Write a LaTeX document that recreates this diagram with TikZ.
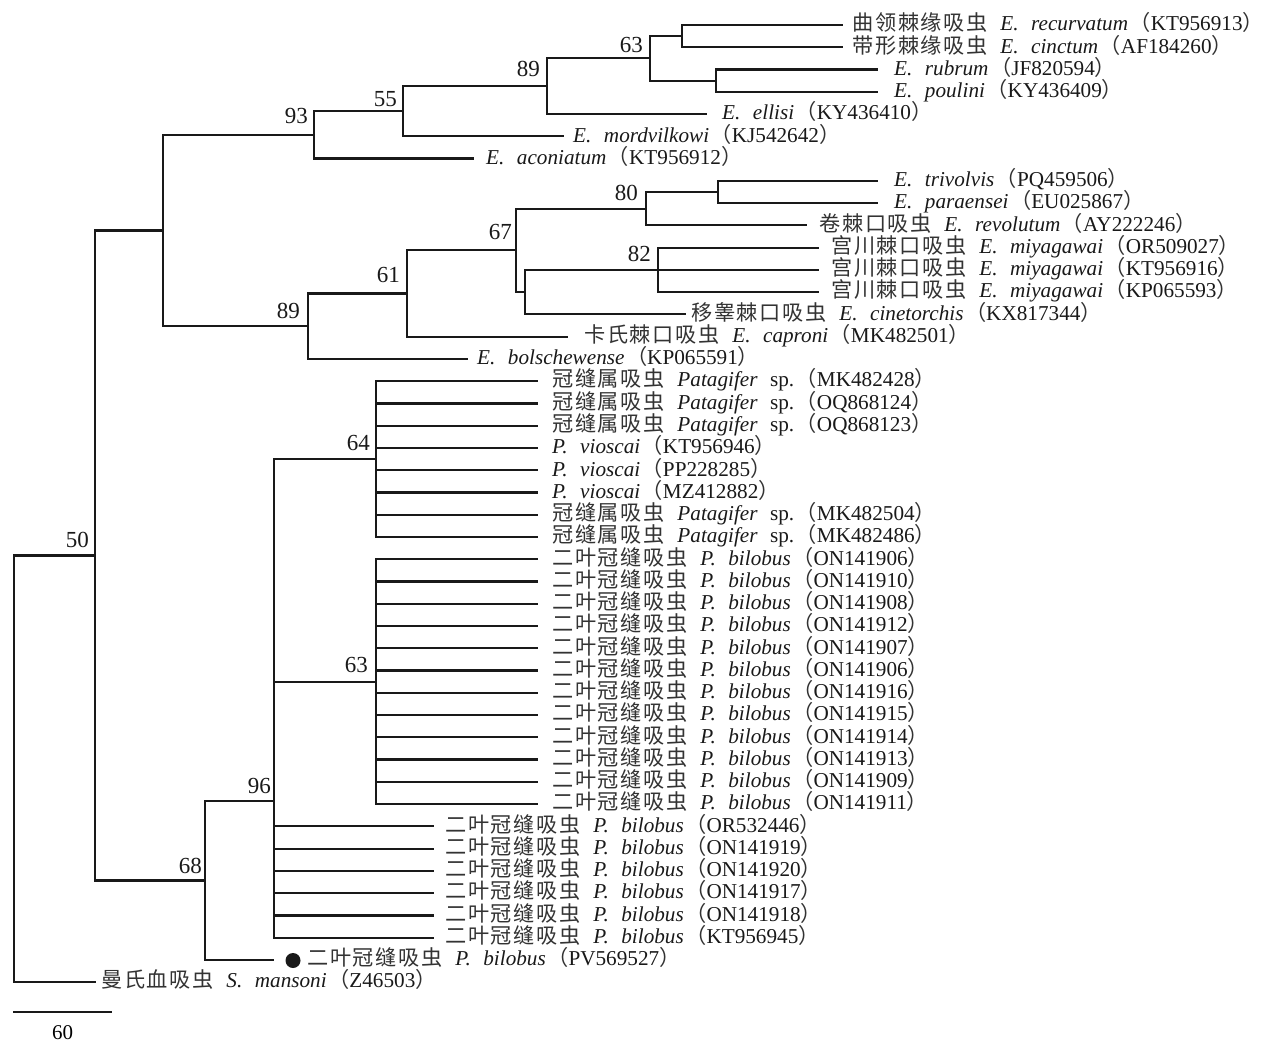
\documentclass[tikz,border=0pt]{standalone}
\usepackage{fontspec}
\setmainfont{Liberation Serif}
\newfontfamily\cjk[LetterSpace=8]{Noto Sans CJK SC}
\newcommand\zh[1]{{\cjk\color{black!80}#1}\hspace{12.5pt}}
\newcommand\gn[1]{\textit{#1}\hspace{12.5pt}}
\newcommand\acc[1]{\hspace{1.5pt}{\cjk\color{black!80}（}#1{\cjk\color{black!80}）}}
\newcommand\leaf[4]{%
  \coordinate (l#1) at (#2, {25+22.26*(#1-1)});
  \node[lab] (t#1) at (#3, {30.8+22.26*(#1-1)}) {#4};
}
\newcommand\clade[4]{%
  \draw[vb] (#1 |- #2) -- (#1 |- #3);
  \foreach \kid in {#4} {\draw[hb] (#1 |- \kid) -- (\kid);}
}
\tikzset{
  hb/.style={line width=2.2pt, line cap=rect, draw=black!90},
  vb/.style={line width=1.4pt, line cap=rect, draw=black!90},
  lab/.style={anchor=base west, inner sep=0pt, font=\fontsize{21.2}{25}\selectfont, text=black!90},
  bs/.style={anchor=base east, inner sep=0pt, font=\fontsize{23}{26}\selectfont, text=black!90},
}
\begin{document}
\begin{tikzpicture}[x=1pt,y=-1pt]
\useasboundingbox (0,0) rectangle (1267,1046);

% leaves
\leaf{1}{842}{852}{\zh{曲领棘缘吸虫}\gn{E.}\textit{recurvatum}\acc{KT956913}}
\leaf{2}{842}{852}{\zh{带形棘缘吸虫}\gn{E.}\textit{cinctum}\acc{AF184260}}
\leaf{3}{877}{894}{\gn{E.}\textit{rubrum}\acc{JF820594}}
\leaf{4}{877}{894}{\gn{E.}\textit{poulini}\acc{KY436409}}
\leaf{5}{706}{722}{\gn{E.}\textit{ellisi}\acc{KY436410}}
\leaf{6}{563}{573}{\gn{E.}\textit{mordvilkowi}\acc{KJ542642}}
\leaf{7}{473}{486}{\gn{E.}\textit{aconiatum}\acc{KT956912}}
\leaf{8}{877}{894}{\gn{E.}\textit{trivolvis}\acc{PQ459506}}
\leaf{9}{877}{894}{\gn{E.}\textit{paraensei}\acc{EU025867}}
\leaf{10}{806}{819}{\zh{卷棘口吸虫}\gn{E.}\textit{revolutum}\acc{AY222246}}
\leaf{11}{818}{831}{\zh{宫川棘口吸虫}\gn{E.}\textit{miyagawai}\acc{OR509027}}
\leaf{12}{818}{831}{\zh{宫川棘口吸虫}\gn{E.}\textit{miyagawai}\acc{KT956916}}
\leaf{13}{818}{831}{\zh{宫川棘口吸虫}\gn{E.}\textit{miyagawai}\acc{KP065593}}
\leaf{14}{685}{691}{\zh{移睾棘口吸虫}\gn{E.}\textit{cinetorchis}\acc{KX817344}}
\leaf{15}{567}{584}{\zh{卡氏棘口吸虫}\gn{E.}\textit{caproni}\acc{MK482501}}
\leaf{16}{467}{477}{\gn{E.}\textit{bolschewense}\acc{KP065591}}
\leaf{17}{537}{552}{\zh{冠缝属吸虫}\gn{Patagifer}sp.\acc{MK482428}}
\leaf{18}{537}{552}{\zh{冠缝属吸虫}\gn{Patagifer}sp.\acc{OQ868124}}
\leaf{19}{537}{552}{\zh{冠缝属吸虫}\gn{Patagifer}sp.\acc{OQ868123}}
\leaf{20}{537}{552}{\gn{P.}\textit{vioscai}\acc{KT956946}}
\leaf{21}{537}{552}{\gn{P.}\textit{vioscai}\acc{PP228285}}
\leaf{22}{537}{552}{\gn{P.}\textit{vioscai}\acc{MZ412882}}
\leaf{23}{537}{552}{\zh{冠缝属吸虫}\gn{Patagifer}sp.\acc{MK482504}}
\leaf{24}{537}{552}{\zh{冠缝属吸虫}\gn{Patagifer}sp.\acc{MK482486}}
\leaf{25}{537}{552}{\zh{二叶冠缝吸虫}\gn{P.}\textit{bilobus}\acc{ON141906}}
\leaf{26}{537}{552}{\zh{二叶冠缝吸虫}\gn{P.}\textit{bilobus}\acc{ON141910}}
\leaf{27}{537}{552}{\zh{二叶冠缝吸虫}\gn{P.}\textit{bilobus}\acc{ON141908}}
\leaf{28}{537}{552}{\zh{二叶冠缝吸虫}\gn{P.}\textit{bilobus}\acc{ON141912}}
\leaf{29}{537}{552}{\zh{二叶冠缝吸虫}\gn{P.}\textit{bilobus}\acc{ON141907}}
\leaf{30}{537}{552}{\zh{二叶冠缝吸虫}\gn{P.}\textit{bilobus}\acc{ON141906}}
\leaf{31}{537}{552}{\zh{二叶冠缝吸虫}\gn{P.}\textit{bilobus}\acc{ON141916}}
\leaf{32}{537}{552}{\zh{二叶冠缝吸虫}\gn{P.}\textit{bilobus}\acc{ON141915}}
\leaf{33}{537}{552}{\zh{二叶冠缝吸虫}\gn{P.}\textit{bilobus}\acc{ON141914}}
\leaf{34}{537}{552}{\zh{二叶冠缝吸虫}\gn{P.}\textit{bilobus}\acc{ON141913}}
\leaf{35}{537}{552}{\zh{二叶冠缝吸虫}\gn{P.}\textit{bilobus}\acc{ON141909}}
\leaf{36}{537}{552}{\zh{二叶冠缝吸虫}\gn{P.}\textit{bilobus}\acc{ON141911}}
\leaf{37}{433}{445}{\zh{二叶冠缝吸虫}\gn{P.}\textit{bilobus}\acc{OR532446}}
\leaf{38}{433}{445}{\zh{二叶冠缝吸虫}\gn{P.}\textit{bilobus}\acc{ON141919}}
\leaf{39}{433}{445}{\zh{二叶冠缝吸虫}\gn{P.}\textit{bilobus}\acc{ON141920}}
\leaf{40}{433}{445}{\zh{二叶冠缝吸虫}\gn{P.}\textit{bilobus}\acc{ON141917}}
\leaf{41}{433}{445}{\zh{二叶冠缝吸虫}\gn{P.}\textit{bilobus}\acc{ON141918}}
\leaf{42}{433}{445}{\zh{二叶冠缝吸虫}\gn{P.}\textit{bilobus}\acc{KT956945}}
\leaf{43}{273}{307}{\zh{二叶冠缝吸虫}\gn{P.}\textit{bilobus}\acc{PV569527}}
\leaf{44}{95}{101}{\zh{曼氏血吸虫}\gn{S.}\textit{mansoni}\acc{Z46503}}

\node[circle, fill=black!90, inner sep=0pt, minimum size=15pt] (dot) at (293,960.5) {};

% internal nodes
\coordinate (nG) at (682,36.13);
\coordinate (nH) at (716,80.65);
\coordinate (nF) at (650,58.39);
\coordinate (nE) at (547,86.22);
\coordinate (nD) at (403,111.26);
\coordinate (nC) at (314,134.91);
\coordinate (nO) at (718,191.95);
\coordinate (nN) at (646,208.65);
\coordinate (nM) at (658,269.86);
\coordinate (nL) at (525,292.12);
\coordinate (nK) at (516,250.38);
\coordinate (nJ) at (407,293.51);
\coordinate (nI) at (308,326.2);
\coordinate (nB) at (163,230.56);
\coordinate (nR) at (376,459.07);
\coordinate (nS) at (376,681.67);
\coordinate (nQ) at (274,801);
\coordinate (nP) at (205,880.46);
\coordinate (nA) at (95,555.51);
\coordinate (nRoot) at (14,768.85);

% branches
\clade{nG}{l1}{l2}{l1,l2}
\clade{nH}{l3}{l4}{l3,l4}
\clade{nF}{nG}{nH}{nG,nH}
\clade{nE}{nF}{l5}{nF,l5}
\clade{nD}{nE}{l6}{nE,l6}
\clade{nC}{nD}{l7}{nD,l7}
\clade{nO}{l8}{l9}{l8,l9}
\clade{nN}{nO}{l10}{nO,l10}
\clade{nM}{l11}{l13}{l11,l12,l13}
\clade{nL}{nM}{l14}{nM,l14}
\clade{nK}{nN}{nL}{nN,nL}
\clade{nJ}{nK}{l15}{nK,l15}
\clade{nI}{nJ}{l16}{nJ,l16}
\clade{nB}{nC}{nI}{nC,nI}
\clade{nR}{l17}{l24}{l17,l18,l19,l20,l21,l22,l23,l24}
\clade{nS}{l25}{l36}{l25,l26,l27,l28,l29,l30,l31,l32,l33,l34,l35,l36}
\clade{nQ}{nR}{l42}{nR,nS,l37,l38,l39,l40,l41,l42}
\clade{nP}{nQ}{l43}{nQ,l43}
\clade{nA}{nB}{nP}{nB,nP}
\clade{nRoot}{nA}{l44}{nA,l44}

% bootstrap values
\node[bs] (b93) at ([xshift=-6pt,yshift=11pt]nC) {93};
\node[bs] (b55) at ([xshift=-6pt,yshift=5pt]nD) {55};
\node[bs] (b89a) at ([xshift=-7pt,yshift=9.5pt]nE) {89};
\node[bs] (b63a) at ([xshift=-7pt,yshift=5.5pt]nF) {63};
\node[bs] (b80) at ([xshift=-8pt,yshift=8.5pt]nN) {80};
\node[bs] (b67) at ([xshift=-4pt,yshift=11pt]nK) {67};
\node[bs] (b82) at ([xshift=-7pt,yshift=8pt]nM) {82};
\node[bs] (b61) at ([xshift=-7pt,yshift=11.5pt]nJ) {61};
\node[bs] (b89b) at ([xshift=-8pt,yshift=8pt]nI) {89};
\node[bs] (b64) at ([xshift=-6pt,yshift=9pt]nR) {64};
\node[bs] (b63b) at ([xshift=-8pt,yshift=9.5pt]nS) {63};
\node[bs] (b96) at ([xshift=-3pt,yshift=8pt]nQ) {96};
\node[bs] (b68) at ([xshift=-3pt,yshift=6.5pt]nP) {68};
\node[bs] (b50) at ([xshift=-6pt,yshift=8.5pt]nA) {50};

% scale bar
\coordinate (s1) at (14,1012);
\coordinate (s2) at (111,1012);
\draw[hb] (s1) -- (s2);
\node[anchor=base, inner sep=0pt, font=\fontsize{21}{24}\selectfont] (sl) at (62.5,1039) {60};
\end{tikzpicture}
\end{document}
